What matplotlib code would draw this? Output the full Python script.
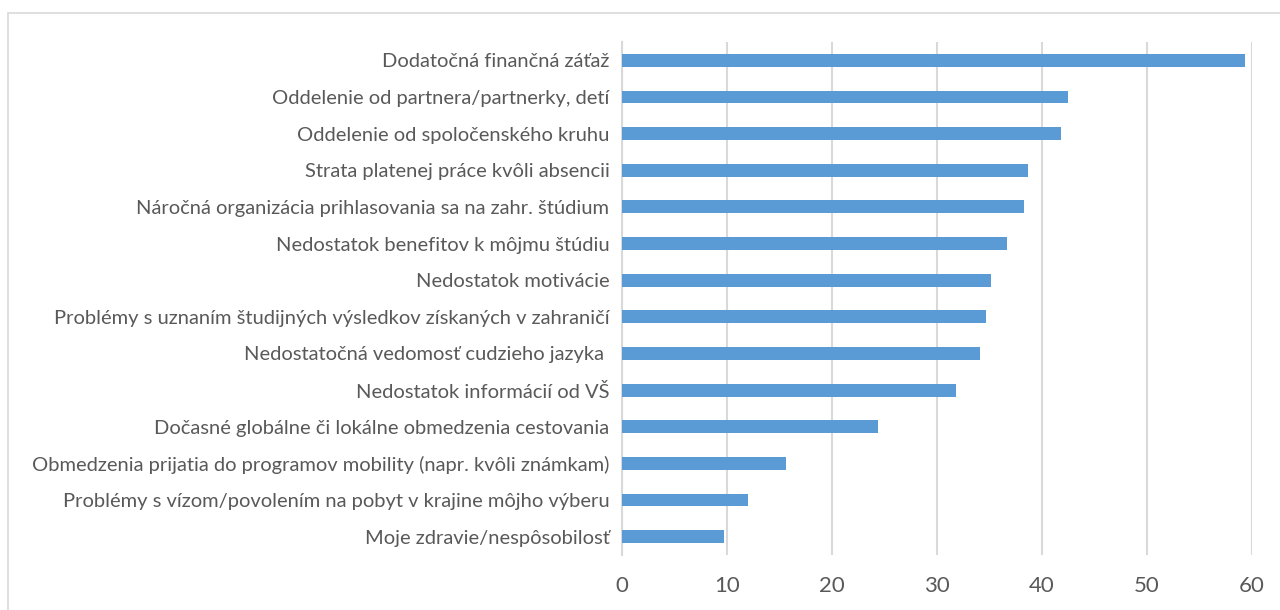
import matplotlib.pyplot as plt
from matplotlib.patches import Rectangle

# Barriers to study mobility
categories = [
    "Dodatočná finančná záťaž",
    "Oddelenie od partnera/partnerky, detí",
    "Oddelenie od spoločenského kruhu",
    "Strata platenej práce kvôli absencii",
    "Náročná organizácia prihlasovania sa na zahr. štúdium",
    "Nedostatok benefitov k môjmu štúdiu",
    "Nedostatok motivácie",
    "Problémy s uznaním študijných výsledkov získaných v zahraničí",
    "Nedostatočná vedomosť cudzieho jazyka ",
    "Nedostatok informácií od VŠ",
    "Dočasné globálne či lokálne obmedzenia cestovania",
    "Obmedzenia prijatia do programov mobility (napr. kvôli známkam)",
    "Problémy s vízom/povolením na pobyt v krajine môjho výberu",
    "Moje zdravie/nespôsobilosť",
]
values = [59.3, 42.5, 41.8, 38.7, 38.25, 36.7, 35.1, 34.7, 34.1, 31.8, 24.4, 15.6, 12.0, 9.7]
x_ticks = [0, 10, 20, 30, 40, 50, 60]

BAR_COLOR = "#5b9bd5"
GRID_COLOR = "#d9d9d9"
TEXT_COLOR = "#595959"

plt.rcParams['font.family'] = ['Lato', 'DejaVu Sans']

fig = plt.figure(figsize=(12.8, 6.1), dpi=100)
ax = fig.add_axes([622 / 1280, 1 - 555 / 610, (1252 - 622) / 1280, (555 - 42) / 610])

# chart-area outline like the Excel export
fig.patches.append(Rectangle((8 / 1280, -0.05), 1.05, 1 - 13 / 610 + 0.05,
                             transform=fig.transFigure, fill=False,
                             edgecolor=GRID_COLOR, linewidth=1.2))

pos = list(range(len(categories)))
ax.barh(pos, values, height=0.35, color=BAR_COLOR, zorder=3)

ax.set_ylim(len(categories) - 0.5, -0.5)
ax.set_xlim(0, 60)
ax.set_yticks(pos)
ax.set_yticklabels(categories, fontsize=14.5, color=TEXT_COLOR)
ax.set_xticks(x_ticks)
ax.set_xticklabels([str(t) for t in x_ticks], fontsize=16, color=TEXT_COLOR)
ax.tick_params(axis='both', length=0)
ax.tick_params(axis='y', pad=9)
ax.tick_params(axis='x', pad=15)

ax.grid(axis='x', color=GRID_COLOR, linewidth=1.5, zorder=0)
for side in ['top', 'right', 'bottom']:
    ax.spines[side].set_visible(False)
ax.spines['left'].set_color(GRID_COLOR)
ax.spines['left'].set_linewidth(1.5)

fig.savefig("out.png", dpi=100)
